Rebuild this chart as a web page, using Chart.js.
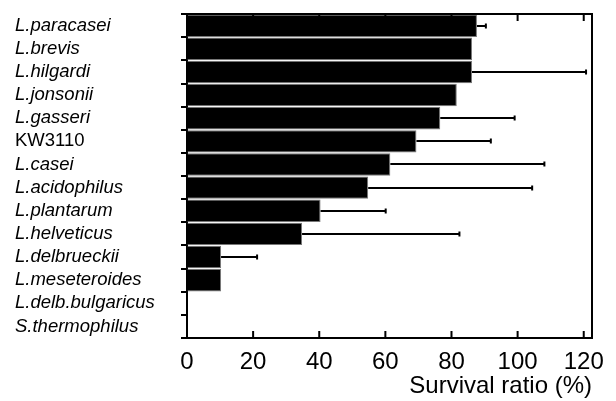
<!DOCTYPE html>
<html>
<head>
<meta charset="utf-8">
<script src="https://cdn.jsdelivr.net/npm/chart.js@4.4.1/dist/chart.umd.min.js"></script>
<style>
  html, body { margin: 0; padding: 0; background: #fff; }
  #wrap { width: 616px; height: 401px; }
</style>
</head>
<body>
<div id="wrap"><canvas id="survivalChart"></canvas></div>
<script>
// Survival ratio by strain
const strains = ['L.paracasei', 'L.brevis', 'L.hilgardi', 'L.jonsonii', 'L.gasseri', 'KW3110',
    'L.casei', 'L.acidophilus', 'L.plantarum', 'L.helveticus', 'L.delbrueckii',
    'L.meseteroides', 'L.delb.bulgaricus', 'S.thermophilus'];
const survival = [87.7, 86.2, 86.2, 81.6, 76.6, 69.4, 61.5, 54.8, 40.4, 34.8, 10.3, 10.3, 0, 0];
const errorUp = [2.7, 0, 34.5, 0, 22.5, 22.5, 46.6, 49.6, 19.7, 47.6, 10.9, 0, 0, 0];
const xTicks = [0, 20, 40, 60, 80, 100, 120];

const FONT = "'Liberation Sans', Arial, sans-serif";

// Frame, inward ticks and one-sided error bars
const extrasPlugin = {
    id: 'extras',
    afterDatasetsDraw(chart) {
        const { ctx, chartArea, scales } = chart;
        const x = scales.x, y = scales.y;
        ctx.save();
        ctx.strokeStyle = '#000';
        ctx.lineWidth = 2;

        // error bars
        survival.forEach((v, i) => {
            if (!errorUp[i]) return;
            const cy = Math.round(y.getPixelForValue(i));
            const x0 = x.getPixelForValue(v);
            const x1 = x.getPixelForValue(v + errorUp[i]);
            ctx.beginPath();
            ctx.moveTo(x0, cy);
            ctx.lineTo(x1, cy);
            ctx.stroke();
            ctx.beginPath();
            ctx.moveTo(x1, cy - 2.5);
            ctx.lineTo(x1, cy + 2.5);
            ctx.stroke();
        });

        // top and right frame lines
        ctx.beginPath();
        ctx.moveTo(chartArea.left, chartArea.top);
        ctx.lineTo(chartArea.right, chartArea.top);
        ctx.lineTo(chartArea.right, chartArea.bottom);
        ctx.stroke();

        // inward ticks on bottom and top
        xTicks.forEach(t => {
            const px = x.getPixelForValue(t);
            ctx.beginPath();
            ctx.moveTo(px, chartArea.bottom);
            ctx.lineTo(px, chartArea.bottom - 7);
            ctx.moveTo(px, chartArea.top);
            ctx.lineTo(px, chartArea.top + 7);
            ctx.stroke();
        });
        ctx.restore();
    }
};

new Chart(document.getElementById('survivalChart'), {
    type: 'bar',
    data: {
        labels: strains,
        datasets: [{
            label: 'Survival ratio (%)',
            data: survival,
            backgroundColor: '#000',
            borderColor: '#777',
            borderWidth: 1,
            borderSkipped: 'start',
            barPercentage: 0.97,
            categoryPercentage: 1
        }]
    },
    options: {
        indexAxis: 'y',
        responsive: true,
        maintainAspectRatio: false,
        animation: false,
        layout: {
            padding: { left: 15, top: 8, right: 24, bottom: 0 }
        },
        plugins: {
            legend: { display: false },
            tooltip: { enabled: false }
        },
        scales: {
            x: {
                type: 'linear',
                min: 0,
                max: 122.5,
                afterBuildTicks: scale => {
                    scale.ticks = xTicks.map(v => ({ value: v }));
                },
                afterFit: scale => { scale.height = 63; },
                ticks: {
                    color: '#000',
                    padding: 10,
                    maxRotation: 0,
                    font: { family: FONT, size: 24 }
                },
                grid: { drawOnChartArea: false, drawTicks: false },
                border: { display: true, color: '#000', width: 2 },
                title: {
                    display: true,
                    text: 'Survival ratio (%)',
                    align: 'end',
                    color: '#000',
                    padding: { top: 0, bottom: 0 },
                    font: { family: FONT, size: 24 }
                }
            },
            y: {
                type: 'category',
                afterFit: scale => { scale.width = 172; },
                ticks: {
                    color: '#000',
                    autoSkip: false,
                    crossAlign: 'far',
                    font: ctx => ({
                        family: FONT,
                        size: 18.5,
                        style: ctx.tick && ctx.tick.label === 'KW3110' ? 'normal' : 'italic'
                    })
                },
                grid: {
                    drawOnChartArea: false,
                    offset: true,
                    tickLength: 6,
                    color: '#000',
                    lineWidth: 2
                },
                border: { display: true, color: '#000', width: 2 }
            }
        }
    },
    plugins: [extrasPlugin]
});
</script>
</body>
</html>
